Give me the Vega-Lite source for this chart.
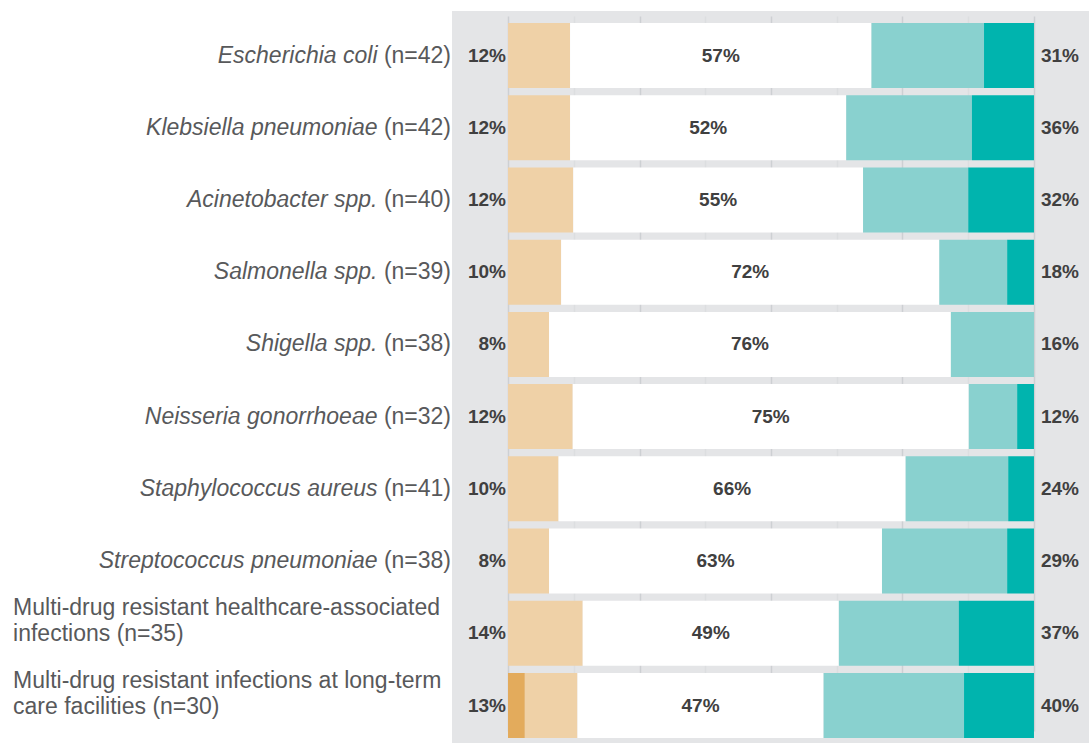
{
  "$schema": "https://vega.github.io/schema/vega-lite/v6.json",
  "width": 637,
  "height": 732,
  "autosize": {"type": "none"},
  "padding": {"left": 452, "top": 11, "right": 0, "bottom": 0},
  "background": "#ffffff",
  "config": {"view": {"stroke": null, "fill": "#e4e5e7"}, "font": "Liberation Sans"},
  "datasets": {
    "rows": [
      {"cat": "Escherichia coli", "n": 42, "lp": 12, "mp": 57, "rp": 31, "kind": "species", "label": ""},
      {"cat": "Klebsiella pneumoniae", "n": 42, "lp": 12, "mp": 52, "rp": 36, "kind": "species", "label": ""},
      {"cat": "Acinetobacter spp.", "n": 40, "lp": 12, "mp": 55, "rp": 32, "kind": "species", "label": ""},
      {"cat": "Salmonella spp.", "n": 39, "lp": 10, "mp": 72, "rp": 18, "kind": "species", "label": ""},
      {"cat": "Shigella spp.", "n": 38, "lp": 8, "mp": 76, "rp": 16, "kind": "species", "label": ""},
      {"cat": "Neisseria gonorrhoeae", "n": 32, "lp": 12, "mp": 75, "rp": 12, "kind": "species", "label": ""},
      {"cat": "Staphylococcus aureus", "n": 41, "lp": 10, "mp": 66, "rp": 24, "kind": "species", "label": ""},
      {"cat": "Streptococcus pneumoniae", "n": 38, "lp": 8, "mp": 63, "rp": 29, "kind": "species", "label": ""},
      {"cat": "Multi-drug resistant healthcare-associated infections", "n": 35, "lp": 14, "mp": 49, "rp": 37, "kind": "multi", "label": "Multi-drug resistant healthcare-associated\ninfections (n=35)"},
      {"cat": "Multi-drug resistant infections at long-term care facilities", "n": 30, "lp": 13, "mp": 47, "rp": 40, "kind": "multi", "label": "Multi-drug resistant infections at long-term\ncare facilities (n=30)"}
    ],
    "segs": [
      {"cat": "Escherichia coli", "seg": "light orange", "k": 2, "v": 11.8},
      {"cat": "Escherichia coli", "seg": "white", "k": 3, "v": 57.3},
      {"cat": "Escherichia coli", "seg": "light teal", "k": 4, "v": 21.4},
      {"cat": "Escherichia coli", "seg": "dark teal", "k": 5, "v": 9.5},
      {"cat": "Klebsiella pneumoniae", "seg": "light orange", "k": 2, "v": 11.8},
      {"cat": "Klebsiella pneumoniae", "seg": "white", "k": 3, "v": 52.5},
      {"cat": "Klebsiella pneumoniae", "seg": "light teal", "k": 4, "v": 23.9},
      {"cat": "Klebsiella pneumoniae", "seg": "dark teal", "k": 5, "v": 11.8},
      {"cat": "Acinetobacter spp.", "seg": "light orange", "k": 2, "v": 12.4},
      {"cat": "Acinetobacter spp.", "seg": "white", "k": 3, "v": 55.1},
      {"cat": "Acinetobacter spp.", "seg": "light teal", "k": 4, "v": 20.0},
      {"cat": "Acinetobacter spp.", "seg": "dark teal", "k": 5, "v": 12.5},
      {"cat": "Salmonella spp.", "seg": "light orange", "k": 2, "v": 10.1},
      {"cat": "Salmonella spp.", "seg": "white", "k": 3, "v": 71.9},
      {"cat": "Salmonella spp.", "seg": "light teal", "k": 4, "v": 12.9},
      {"cat": "Salmonella spp.", "seg": "dark teal", "k": 5, "v": 5.1},
      {"cat": "Shigella spp.", "seg": "light orange", "k": 2, "v": 7.8},
      {"cat": "Shigella spp.", "seg": "white", "k": 3, "v": 76.4},
      {"cat": "Shigella spp.", "seg": "light teal", "k": 4, "v": 15.8},
      {"cat": "Neisseria gonorrhoeae", "seg": "light orange", "k": 2, "v": 12.3},
      {"cat": "Neisseria gonorrhoeae", "seg": "white", "k": 3, "v": 75.3},
      {"cat": "Neisseria gonorrhoeae", "seg": "light teal", "k": 4, "v": 9.2},
      {"cat": "Neisseria gonorrhoeae", "seg": "dark teal", "k": 5, "v": 3.2},
      {"cat": "Staphylococcus aureus", "seg": "light orange", "k": 2, "v": 9.6},
      {"cat": "Staphylococcus aureus", "seg": "white", "k": 3, "v": 66.0},
      {"cat": "Staphylococcus aureus", "seg": "light teal", "k": 4, "v": 19.5},
      {"cat": "Staphylococcus aureus", "seg": "dark teal", "k": 5, "v": 4.9},
      {"cat": "Streptococcus pneumoniae", "seg": "light orange", "k": 2, "v": 7.8},
      {"cat": "Streptococcus pneumoniae", "seg": "white", "k": 3, "v": 63.3},
      {"cat": "Streptococcus pneumoniae", "seg": "light teal", "k": 4, "v": 23.8},
      {"cat": "Streptococcus pneumoniae", "seg": "dark teal", "k": 5, "v": 5.1},
      {"cat": "Multi-drug resistant healthcare-associated infections", "seg": "light orange", "k": 2, "v": 14.2},
      {"cat": "Multi-drug resistant healthcare-associated infections", "seg": "white", "k": 3, "v": 48.7},
      {"cat": "Multi-drug resistant healthcare-associated infections", "seg": "light teal", "k": 4, "v": 22.8},
      {"cat": "Multi-drug resistant healthcare-associated infections", "seg": "dark teal", "k": 5, "v": 14.3},
      {"cat": "Multi-drug resistant infections at long-term care facilities", "seg": "dark orange", "k": 1, "v": 3.2},
      {"cat": "Multi-drug resistant infections at long-term care facilities", "seg": "light orange", "k": 2, "v": 10.0},
      {"cat": "Multi-drug resistant infections at long-term care facilities", "seg": "white", "k": 3, "v": 46.8},
      {"cat": "Multi-drug resistant infections at long-term care facilities", "seg": "light teal", "k": 4, "v": 26.7},
      {"cat": "Multi-drug resistant infections at long-term care facilities", "seg": "dark teal", "k": 5, "v": 13.3}
    ]
  },
  "encoding": {
    "y": {
      "field": "cat",
      "type": "nominal",
      "axis": null,
      "scale": {
        "domain": [
          "Escherichia coli",
          "Klebsiella pneumoniae",
          "Acinetobacter spp.",
          "Salmonella spp.",
          "Shigella spp.",
          "Neisseria gonorrhoeae",
          "Staphylococcus aureus",
          "Streptococcus pneumoniae",
          "Multi-drug resistant healthcare-associated infections",
          "Multi-drug resistant infections at long-term care facilities"
        ],
        "range": [12, 727],
        "paddingInner": 0.1,
        "paddingOuter": 0
      }
    }
  },
  "layer": [
    {
      "data": {"name": "segs"},
      "transform": [
        {"stack": "v", "groupby": ["cat"], "sort": [{"field": "k", "order": "ascending"}], "as": ["x0", "x1"]}
      ],
      "mark": {"type": "bar"},
      "encoding": {
        "x": {
          "field": "x0",
          "type": "quantitative",
          "scale": {"domain": [-10.65, 110.46], "nice": false, "zero": false},
          "axis": {
            "values": [0, 12.5, 25, 37.5, 50, 62.5, 75, 87.5, 100],
            "grid": true,
            "gridColor": {"condition": {"test": "datum.value % 25 === 0", "value": "#cdd0d3"}, "value": "#dcdee0"},
            "gridWidth": 1.5,
            "labels": false,
            "ticks": false,
            "domain": false,
            "title": null
          }
        },
        "x2": {"field": "x1"},
        "color": {
          "field": "seg",
          "type": "nominal",
          "scale": {
            "domain": ["dark orange", "light orange", "white", "light teal", "dark teal"],
            "range": ["#e3ab5c", "#efd1a7", "#ffffff", "#89d1cf", "#00b4ae"]
          },
          "legend": null
        }
      }
    },
    {
      "data": {"name": "segs"},
      "transform": [
        {"stack": "v", "groupby": ["cat"], "sort": [{"field": "k", "order": "ascending"}], "as": ["x0", "x1"]},
        {"filter": "datum.seg === 'white'"},
        {"lookup": "cat", "from": {"data": {"name": "rows"}, "key": "cat", "fields": ["mp"]}},
        {"calculate": "(datum.x0 + datum.x1) / 2", "as": "mid"},
        {"calculate": "datum.mp + '%'", "as": "mt"}
      ],
      "mark": {"type": "text", "align": "center", "baseline": "middle", "fontSize": 19, "fontWeight": "bold", "color": "#404040"},
      "encoding": {
        "x": {"field": "mid", "type": "quantitative"},
        "text": {"field": "mt", "type": "nominal"}
      }
    },
    {
      "data": {"name": "rows"},
      "transform": [{"calculate": "datum.lp + '%'", "as": "lt"}],
      "mark": {"type": "text", "align": "right", "baseline": "middle", "dx": -2, "fontSize": 19, "fontWeight": "bold", "color": "#404040"},
      "encoding": {
        "x": {"datum": 0, "type": "quantitative"},
        "text": {"field": "lt", "type": "nominal"}
      }
    },
    {
      "data": {"name": "rows"},
      "transform": [{"calculate": "datum.rp + '%'", "as": "rt"}],
      "mark": {"type": "text", "align": "left", "baseline": "middle", "dx": 7, "fontSize": 19, "fontWeight": "bold", "color": "#404040"},
      "encoding": {
        "x": {"datum": 100, "type": "quantitative"},
        "text": {"field": "rt", "type": "nominal"}
      }
    },
    {
      "data": {"name": "rows"},
      "transform": [
        {"filter": "datum.kind === 'species'"},
        {"calculate": "'(n=' + datum.n + ')'", "as": "nt"}
      ],
      "mark": {"type": "text", "align": "right", "baseline": "middle", "dx": -1, "fontSize": 23, "color": "#58595b"},
      "encoding": {
        "x": {"datum": -10.65, "type": "quantitative"},
        "text": {"field": "nt", "type": "nominal"}
      }
    },
    {
      "data": {"name": "rows"},
      "transform": [{"filter": "datum.kind === 'species'"}],
      "mark": {"type": "text", "align": "right", "baseline": "middle", "dx": -74.5, "fontSize": 23, "fontStyle": "italic", "color": "#58595b"},
      "encoding": {
        "x": {"datum": -10.65, "type": "quantitative"},
        "text": {"field": "cat", "type": "nominal"}
      }
    },
    {
      "data": {"name": "rows"},
      "transform": [{"filter": "datum.kind === 'multi'"}],
      "mark": {"type": "text", "align": "left", "baseline": "middle", "dy": -25, "lineBreak": "\n", "lineHeight": 26, "fontSize": 23, "color": "#58595b"},
      "encoding": {
        "x": {"datum": -94.1, "type": "quantitative"},
        "text": {"field": "label", "type": "nominal"}
      }
    }
  ]
}
